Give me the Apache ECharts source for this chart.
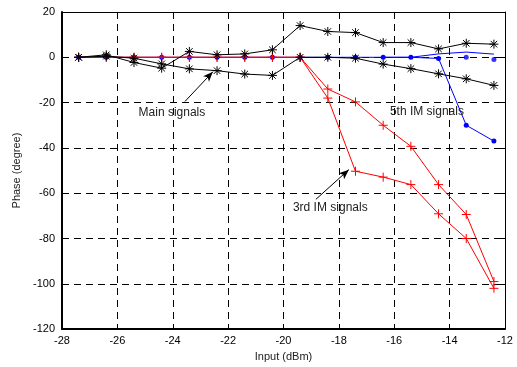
<!DOCTYPE html>
<html>
<head>
<meta charset="utf-8">
<script src="https://cdn.jsdelivr.net/npm/echarts@6/dist/echarts.min.js"></script>
<style>html,body{margin:0;padding:0;background:#fff}#c{width:517px;height:367px}</style>
</head>
<body>
<div id="c"></div>
<script>
// Input power (dBm)
var inputs = [-27.4, -26.4, -25.4, -24.4, -23.4, -22.4, -21.4, -20.4, -19.4, -18.4, -17.4, -16.4, -15.4, -14.4, -13.4, -12.4];
// Main signals (two traces)
var mainUpper = [0, 1.1, -2.3, -4.8, 2.6, 1.1, 1.5, 3.3, 14, 11.4, 10.9, 6.5, 6.5, 3.7, 6.2, 5.8];
var mainLower = [0, 0.5, -0.4, -2.9, -5.1, -5.9, -7.4, -8, 0, 0, -0.4, -3, -5, -7.3, -9.5, -12.4];
// 3rd IM signals (two traces)
var im3A = [0, 0, 0, 0, 0, 0, 0, 0, 0, -18, -50.3, -52.9, -56.2, -69.1, -80, -102];
var im3B = [0, 0, 0, 0, 0, 0, 0, 0, 0, -14, -19.7, -30, -39.3, -56.2, -69.4, -99];
// 5th IM signals
var im5Marked = [0, 0, 0, 0, 0, 0, 0, 0, 0, 0, 0, 0, 0, -0.5, -30, -37];
var im5Line = [null, null, null, null, null, null, null, null, null, null, null, 0, 0, 1.5, 2.3, 1.4];
var im5Dots = [null, null, null, null, null, null, null, null, null, null, null, null, null, null, 0, -1];
// Axis ticks
var xTicks = {min: -28, max: -12, step: 2};
var yTicks = {min: -120, max: 20, step: 20};
// Annotations [text, x, y]
var labels = [['Main signals', -24.03, -24.4], ['5th IM signals', -14.82, -24.0], ['3rd IM signals', -18.31, -66.3]];
var arrows = [[[-23.56, -19.5], [-22.55, -6.4]], [[-18.83, -62.7], [-17.64, -49.6]]];

function pairs(vals) { return inputs.map(function (x, i) { return [x, vals[i]]; }); }

var star = 'path://M0,-4L0,4M-4,0L4,0M-2.9,-2.9L2.9,2.9M-2.9,2.9L2.9,-2.9';
var plus = 'path://M0,-4L0,4M-4,0L4,0';

var chart = echarts.init(document.getElementById('c'), null, {renderer: 'canvas'});
var font = '"Liberation Sans", Arial, sans-serif';

var option = {
  animation: false,
  backgroundColor: '#fff',
  textStyle: {fontFamily: font},
  grid: {left: 62, right: 12, top: 12, bottom: 37, containLabel: false},
  xAxis: [{
    type: 'value', min: xTicks.min, max: xTicks.max, interval: xTicks.step, position: 'bottom',
    axisLine: {show: true, onZero: false, lineStyle: {color: '#000', width: 2}},
    axisTick: {show: true, inside: true, length: 4, lineStyle: {color: '#000'}},
    axisLabel: {color: '#000', fontSize: 11, margin: 6, fontFamily: font},
    splitLine: {show: true, lineStyle: {color: '#000', width: 1, type: [7, 5]}},
    name: 'Input (dBm)', nameLocation: 'middle', nameGap: 20,
    nameTextStyle: {color: '#222', fontSize: 11, fontFamily: font}
  }, {
    type: 'value', min: xTicks.min, max: xTicks.max, interval: xTicks.step, position: 'top',
    axisLine: {show: true, onZero: false, lineStyle: {color: '#000', width: 1}},
    axisTick: {show: true, inside: true, length: 4, lineStyle: {color: '#000'}},
    axisLabel: {show: false}, splitLine: {show: false}
  }],
  yAxis: [{
    type: 'value', min: yTicks.min, max: yTicks.max, interval: yTicks.step, position: 'left',
    axisLine: {show: true, onZero: false, lineStyle: {color: '#000', width: 2}},
    axisTick: {show: true, inside: true, length: 4, lineStyle: {color: '#000'}},
    axisLabel: {color: '#000', fontSize: 11, margin: 7, fontFamily: font},
    splitLine: {show: true, lineStyle: {color: '#000', width: 1, type: [7, 5]}},
    name: 'Phase (degree)', nameLocation: 'middle', nameGap: 40,
    nameTextStyle: {color: '#222', fontSize: 11, fontFamily: font}
  }, {
    type: 'value', min: yTicks.min, max: yTicks.max, interval: yTicks.step, position: 'right',
    axisLine: {show: true, onZero: false, lineStyle: {color: '#000', width: 1}},
    axisTick: {show: true, inside: true, length: 4, lineStyle: {color: '#000'}},
    axisLabel: {show: false}, splitLine: {show: false}
  }],
  series: [
    {type: 'line', data: pairs(im5Line), showSymbol: false, symbol: 'none', connectNulls: false,
     lineStyle: {color: '#0000ff', width: 1}, z: 2},
    {type: 'line', data: pairs(im5Marked), symbol: 'circle', symbolSize: 5,
     itemStyle: {color: '#0000ff'}, lineStyle: {color: '#0000ff', width: 1}, z: 2},
    {type: 'scatter', data: pairs(im5Dots), symbol: 'circle', symbolSize: 5,
     itemStyle: {color: '#0000ff'}, z: 2},
    {type: 'line', data: pairs(im3A), symbol: plus, symbolSize: 9,
     itemStyle: {color: 'rgba(0,0,0,0)', borderColor: '#ff0000', borderWidth: 1},
     lineStyle: {color: '#ff0000', width: 1}, z: 3},
    {type: 'line', data: pairs(im3B), symbol: plus, symbolSize: 9,
     itemStyle: {color: 'rgba(0,0,0,0)', borderColor: '#ff0000', borderWidth: 1},
     lineStyle: {color: '#ff0000', width: 1}, z: 3},
    {type: 'line', data: pairs(mainUpper), symbol: star, symbolSize: 9,
     itemStyle: {color: 'rgba(0,0,0,0)', borderColor: '#000', borderWidth: 1},
     lineStyle: {color: '#000', width: 1}, z: 4},
    {type: 'line', data: pairs(mainLower), symbol: star, symbolSize: 9,
     itemStyle: {color: 'rgba(0,0,0,0)', borderColor: '#000', borderWidth: 1},
     lineStyle: {color: '#000', width: 1}, z: 4,
     markLine: {
       silent: true, animation: false, symbol: ['none', 'arrow'], symbolSize: [6, 10],
       lineStyle: {color: '#000', width: 1, type: 'solid'}, label: {show: false},
       data: arrows.map(function (a) { return [{coord: a[0]}, {coord: a[1]}]; })
     },
     markPoint: {
       silent: true, animation: false, symbol: 'circle', symbolSize: 1,
       itemStyle: {color: 'rgba(0,0,0,0)'},
       label: {show: true, position: 'inside', color: '#222', fontSize: 12, fontFamily: font,
               formatter: function (p) { return p.name; }},
       data: labels.map(function (l) { return {name: l[0], coord: [l[1], l[2]]}; })
     }}
  ]
};
chart.setOption(option);
</script>
</body>
</html>
